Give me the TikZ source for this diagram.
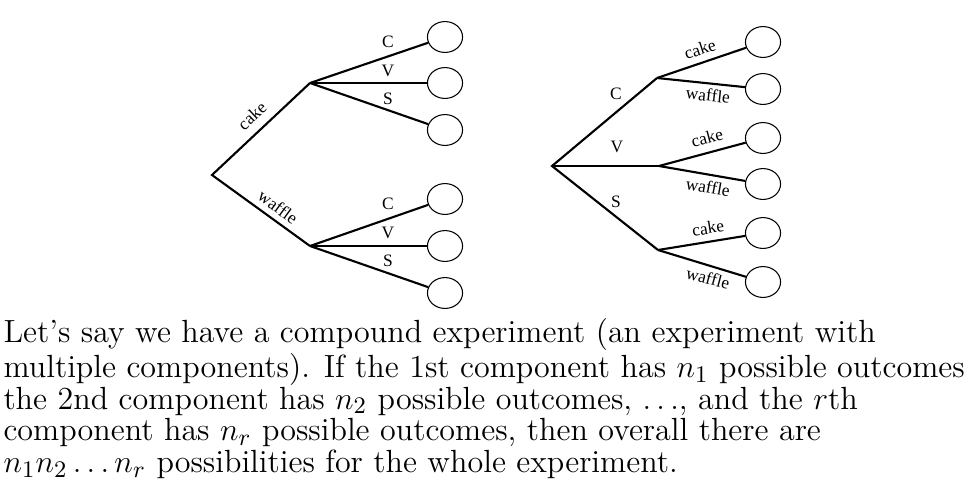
\documentclass[tikz,border=0pt]{standalone}
\usepackage{fontspec}
\newfontfamily\treefont{Liberation Serif}
\usetikzlibrary{shapes.geometric}
\tikzset{
  tree/leaf/.style={
    ellipse,
    draw,
    line width=0.4pt,
    minimum width=13.3pt,
    minimum height=11.7pt,
    inner sep=0pt
  },
  tree/branch/.style={line width=0.8pt, line join=miter},
  tree/label/.style={font=\treefont\fontsize{6.6}{7}\selectfont, inner sep=0pt},
  tree/para/.style={align=left, inner sep=0pt, anchor=north west, font=\fontsize{12.15}{12}\selectfont}
}

\begin{document}
\begin{tikzpicture}[x=0.3788pt,y=-0.3788pt]
  \useasboundingbox (0,0) rectangle (977,486);
  % left tree: cake/waffle first
  \coordinate (a) at (212,175);
  \coordinate (a1) at (310,83);
  \coordinate (a2) at (310,246);
  \node[tree/leaf] (a11) at (445,37) {};
  \node[tree/leaf] (a12) at (445,83) {};
  \node[tree/leaf] (a13) at (445,130) {};
  \node[tree/leaf] (a21) at (445,199) {};
  \node[tree/leaf] (a22) at (445,246) {};
  \node[tree/leaf] (a23) at (445,293) {};
  \draw[tree/branch] (a1) -- (a) -- (a2);
  \foreach \i in {1,2,3} {
    \draw[tree/branch] (a1) -- (a1\i);
    \draw[tree/branch] (a2) -- (a2\i);
  }
  \node[tree/label,rotate=43] (acake) at (252,116) {cake};
  \node[tree/label,rotate=-36] (awaffle) at (278,207) {waffle};
  \node[tree/label] (a1C) at (388,42) {C};
  \node[tree/label] (a1V) at (388,71) {V};
  \node[tree/label] (a1S) at (388,99) {S};
  \node[tree/label] (a2C) at (388,204) {C};
  \node[tree/label] (a2V) at (388,233) {V};
  \node[tree/label] (a2S) at (388,261) {S};

  % right tree: C/V/S first
  \coordinate (b) at (552,166);
  \coordinate (b1) at (657,78);
  \coordinate (b2) at (659,166);
  \coordinate (b3) at (658,250);
  \node[tree/leaf] (b11) at (763,42) {};
  \node[tree/leaf] (b12) at (763,89) {};
  \node[tree/leaf] (b21) at (763,138) {};
  \node[tree/leaf] (b22) at (763,184) {};
  \node[tree/leaf] (b31) at (763,233) {};
  \node[tree/leaf] (b32) at (763,282) {};
  \draw[tree/branch] (b1) -- (b) -- (b3);
  \draw[tree/branch] (b) -- (b2);
  \foreach \i in {1,2,3} {
    \draw[tree/branch] (b\i) -- (b\i1);
    \draw[tree/branch] (b\i) -- (b\i2);
  }
  \node[tree/label] (bC) at (616,94) {C};
  \node[tree/label] (bV) at (617,147) {V};
  \node[tree/label] (bS) at (616,202) {S};
  \node[tree/label,rotate=18] (b1cake) at (700,49) {cake};
  \node[tree/label,rotate=-6] (b1waffle) at (708,95) {waffle};
  \node[tree/label,rotate=15] (b2cake) at (707,138) {cake};
  \node[tree/label,rotate=-10] (b2waffle) at (708,187) {waffle};
  \node[tree/label,rotate=9] (b3cake) at (708,228) {cake};
  \node[tree/label,rotate=-15] (b3waffle) at (708,278) {waffle};

  \node[tree/para] (text) at (3,318) {Let's say we have a compound experiment (an experiment with\\
    multiple components). If the 1st component has $n_1$ possible outcomes\\
    the 2nd component has $n_2$ possible outcomes, $\ldots$, and the $r$th\\
    component has $n_r$ possible outcomes, then overall there are\\
    $n_1n_2\ldots n_r$ possibilities for the whole experiment.};
\end{tikzpicture}
\end{document}
